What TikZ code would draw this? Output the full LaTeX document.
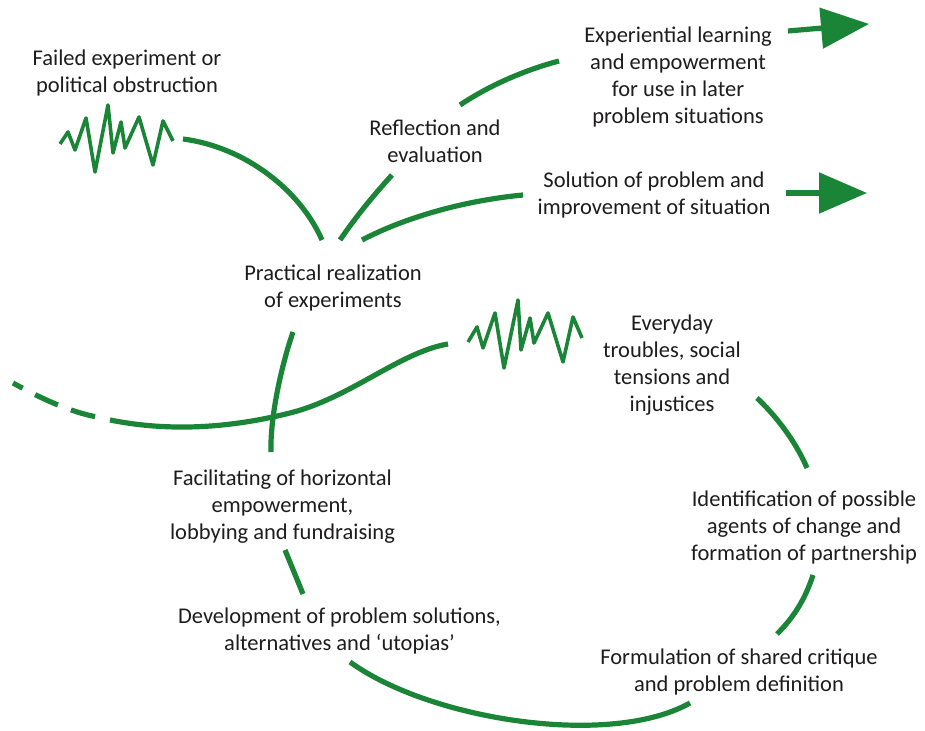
\documentclass[tikz,border=0pt]{standalone}
\usepackage{fontspec}
\setmainfont{Carlito}
\usetikzlibrary{arrows.meta}
\definecolor{lgreen}{RGB}{26,133,55}
\definecolor{ltext}{RGB}{30,28,28}
\begin{document}
\begin{tikzpicture}[x=0.5pt,y=-0.5pt,
  lbl/.style={align=center,inner sep=0pt,text=ltext,font=\fontsize{11.25}{13.5}\selectfont,
    execute at begin node=\strut, execute at end node=\strut},
  flow/.style={draw=lgreen,line width=2.6pt},
  zig/.style={draw=lgreen,line width=1.8pt,line join=round},
  arr/.style={flow,-{Triangle[length=24pt,width=20pt]}}]
\useasboundingbox (0,0) rectangle (925,731);

% labels
\node[lbl] (failed) at (127,75) {Failed experiment or\\political obstruction};
\node[lbl] (exper) at (678,79.5) {Experiential learning\\and empowerment\\for use in later\\problem situations};
\node[lbl] (refl) at (435,145.5) {Reflection and\\evaluation};
\node[lbl] (sol) at (654,197.5) {Solution of problem and\\improvement of situation};
\node[lbl] (pract) at (333,290.5) {Practical realization\\of experiments};
\node[lbl] (every) at (672,367.5) {Everyday\\troubles, social\\tensions and\\injustices};
\node[lbl] (facil) at (282.5,509) {Facilitating of horizontal\\empowerment,\\lobbying and fundraising};
\node[lbl] (ident) at (804,530) {Identification of possible\\agents of change and\\formation of partnership};
\node[lbl] (devel) at (339.5,633.5) {Development of problem solutions,\\alternatives and ‘utopias’};
\node[lbl] (formu) at (739,674.5) {Formulation of shared critique\\and problem definition};

% coordinates
\coordinate (zl0) at (60,144);
\coordinate (zr0) at (468,342);
\coordinate (a1) at (183,139);  \coordinate (a2) at (322,240);
\coordinate (b1) at (340,240);  \coordinate (b2) at (392,175);
\coordinate (c1) at (362,240);  \coordinate (c2) at (523,195);
\coordinate (d1) at (460,105);  \coordinate (d2) at (559,61);
\coordinate (e1) at (788,31);   \coordinate (e2) at (869,24);
\coordinate (f1) at (786,193);  \coordinate (f2) at (867,193);
\coordinate (g1) at (293,332);  \coordinate (g2) at (271,452);
\coordinate (h1) at (13,383);   \coordinate (h2) at (97,417);
\coordinate (i1) at (110,420);  \coordinate (i2) at (290,413); \coordinate (i3) at (448,344);
\coordinate (k1) at (757,398);  \coordinate (k2) at (807,468);
\coordinate (l1) at (813,575);  \coordinate (l2) at (777,634);
\coordinate (m1) at (350,662);  \coordinate (m2) at (690,703);
\coordinate (n1) at (285,550);  \coordinate (n2) at (303,594);

% zigzags
\draw[zig] (zl0) -- (68,132) -- (75,150) -- (86,118) -- (95,172) -- (108,105) -- (113,153)
  -- (121,122) -- (125,148) -- (139,117) -- (153,165) -- (163,121) -- (173,141);
\draw[zig] (zr0) -- (477,327) -- (483,348) -- (495,313) -- (504,368) -- (518,300) -- (521,350)
  -- (530,318) -- (534,343) -- (548,313) -- (563,362) -- (573,317) -- (582,338);

% connectors
\draw[flow] (a1) .. controls (245,147) and (300,190) .. (a2);
\draw[flow] (b1) .. controls (355,218) and (372,197) .. (b2);
\draw[flow] (c1) .. controls (410,215) and (470,200) .. (c2);
\draw[flow] (d1) .. controls (490,85) and (525,70) .. (d2);
\draw[arr] (e1) -- (e2);
\draw[arr] (f1) -- (f2);
\draw[flow] (g1) .. controls (280,370) and (270,420) .. (g2);
\draw[flow,dash pattern=on 12.5pt off 7pt,dash phase=7pt] (h1) .. controls (40,398) and (70,412) .. (h2);
\draw[flow] (i1) .. controls (170,432) and (230,428) .. (i2) .. controls (350,398) and (400,352) .. (i3);
\draw[flow] (k1) .. controls (775,415) and (795,440) .. (k2);
\draw[flow] (l1) .. controls (805,600) and (793,618) .. (l2);
\draw[flow] (m1) .. controls (430,720) and (610,748) .. (m2);
\draw[flow] (n1) -- (n2);
\end{tikzpicture}
\end{document}
